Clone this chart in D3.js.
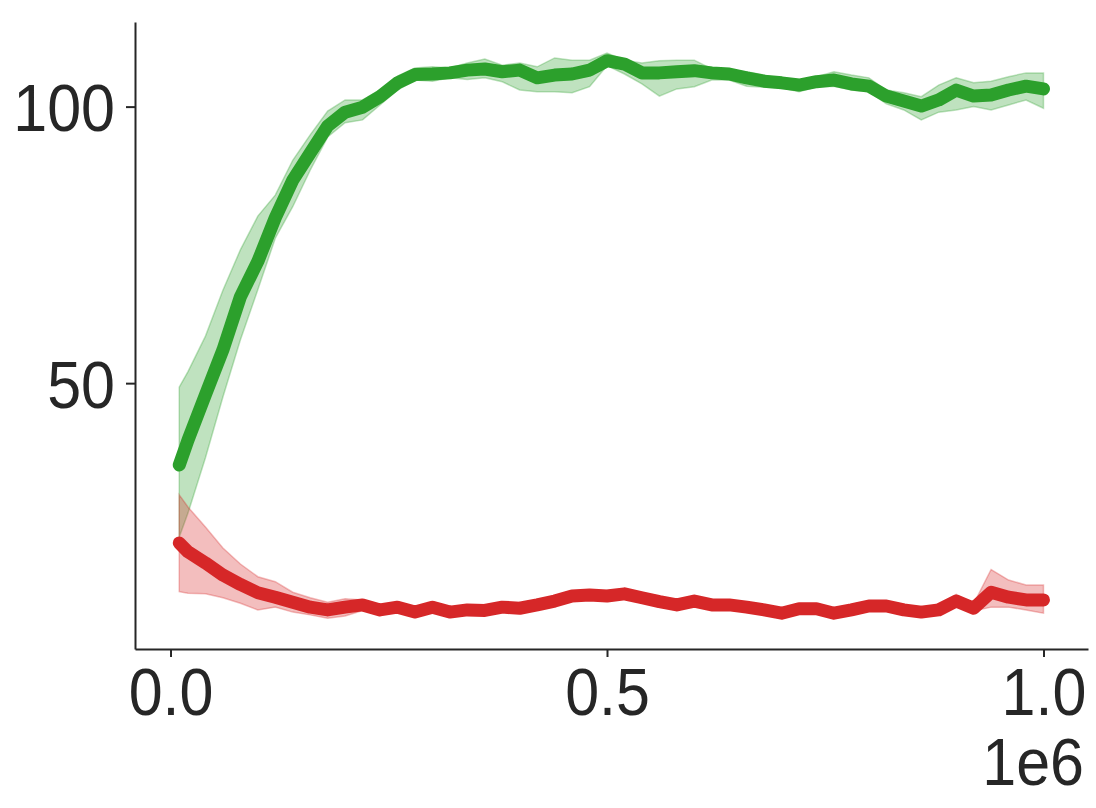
<!DOCTYPE html>
<html>
<head>
<meta charset="utf-8">
<script src="https://cdn.jsdelivr.net/npm/d3@7"></script>
<style>
  html, body { margin: 0; padding: 0; background: #fff; }
  svg { display: block; }
</style>
</head>
<body>
<div id="chart"></div>
<script>
// training steps (x)
var steps = [10000, 20000, 40000, 60000, 80000, 100000, 120000, 140000, 160000, 180000,
  200000, 220000, 240000, 260000, 280000, 300000, 320000, 340000, 360000, 380000,
  400000, 420000, 440000, 460000, 480000, 500000, 520000, 540000, 560000, 580000,
  600000, 620000, 640000, 660000, 680000, 700000, 720000, 740000, 760000, 780000,
  800000, 820000, 840000, 860000, 880000, 900000, 920000, 940000, 960000, 980000, 1000000];

// green series: mean and band
var greenMean = [35.2, 39.7, 47.9, 56.0, 65.6, 72.0, 79.9, 86.7, 91.6, 96.5,
  99.0, 99.9, 101.8, 104.3, 105.8, 105.9, 106.1, 106.6, 106.8, 106.3,
  106.6, 105.2, 105.7, 105.9, 106.6, 108.3, 107.7, 106.1, 106.1, 106.3,
  106.5, 106.1, 105.9, 105.2, 104.6, 104.3, 103.9, 104.5, 104.8, 104.1,
  103.7, 101.9, 101.0, 100.1, 101.2, 103.0, 101.9, 102.1, 103.0, 103.7, 103.2];
var greenLow = [22.2, 26.5, 36.5, 47.5, 57.8, 66.9, 76.2, 81.9, 88.5, 94.5,
  97.1, 97.6, 100.3, 103.0, 104.8, 104.6, 105.2, 104.9, 105.2, 104.5,
  103.0, 102.7, 102.7, 102.5, 103.6, 107.4, 105.9, 104.1, 101.9, 103.2,
  103.6, 104.8, 104.8, 103.7, 103.5, 103.4, 102.7, 103.6, 103.7, 103.0,
  102.7, 100.5, 99.4, 97.6, 99.0, 99.4, 100.0, 99.4, 100.3, 101.2, 99.7];
var greenHigh = [49.3, 52.1, 58.5, 66.8, 74.1, 80.2, 84.0, 90.3, 94.9, 99.2,
  101.2, 101.2, 103.0, 105.5, 107.0, 107.2, 107.0, 107.9, 108.6, 107.5,
  107.9, 107.2, 108.8, 108.4, 108.4, 109.7, 108.4, 107.9, 108.3, 108.4,
  108.4, 106.8, 106.5, 106.3, 105.7, 105.0, 104.8, 105.4, 106.3, 105.7,
  105.2, 103.0, 102.5, 101.8, 103.9, 105.2, 104.3, 104.6, 105.4, 106.1, 106.1];

// red series: mean and band
var redMean = [21.1, 19.5, 17.5, 15.3, 13.6, 12.1, 11.3, 10.4, 9.5, 9.0,
  9.5, 9.9, 9.0, 9.5, 8.6, 9.5, 8.6, 9.0, 8.9, 9.5,
  9.3, 9.9, 10.6, 11.5, 11.7, 11.5, 11.9, 11.2, 10.5, 9.9,
  10.6, 9.9, 9.9, 9.5, 9.0, 8.4, 9.2, 9.2, 8.4, 9.0,
  9.7, 9.7, 9.0, 8.6, 9.0, 10.6, 9.3, 12.2, 11.3, 10.8, 10.8];
var redLow = [12.3, 12.0, 11.9, 11.2, 10.2, 9.0, 9.5, 8.6, 8.1, 7.5,
  7.9, 8.9, 8.4, 8.9, 8.0, 8.9, 8.0, 8.4, 8.3, 8.9,
  8.7, 9.3, 10.0, 10.8, 11.1, 10.9, 11.3, 10.6, 9.9, 9.3,
  10.0, 9.3, 9.3, 8.9, 8.4, 7.8, 8.6, 8.5, 7.7, 8.3,
  9.0, 9.1, 8.4, 8.0, 8.4, 9.7, 8.8, 9.5, 9.5, 9.0, 8.4];
var redHigh = [29.8, 27.6, 24.0, 20.2, 17.3, 15.0, 14.1, 12.2, 11.2, 10.4,
  11.0, 10.8, 9.9, 10.1, 9.2, 10.1, 9.2, 9.6, 9.5, 10.1,
  9.9, 10.5, 11.3, 12.3, 12.4, 12.1, 12.6, 11.8, 11.1, 10.5,
  11.2, 10.5, 10.5, 10.1, 9.6, 9.0, 9.8, 10.0, 9.2, 9.9,
  10.4, 10.3, 9.6, 9.2, 9.6, 11.8, 10.1, 16.3, 14.4, 13.5, 13.5];

var yTicks = [50, 100];
var xTicks = [0, 500000, 1000000];
var xTickLabels = ["0.0", "0.5", "1.0"];
var offsetLabel = "1e6";

var W = 1096, H = 808;
var plotLeft = 135, plotRight = 1088, plotTop = 22, plotBottom = 649;
var axisColor = "#262626";
var fontSize = 67, squeeze = 0.91;

var svg = d3.select("#chart").append("svg")
  .attr("width", W)
  .attr("height", H);

var x = d3.scaleLinear().domain([-40700, 1051000]).range([plotLeft, plotRight]);
var y = d3.scaleLinear().domain([1.93, 115.3]).range([plotBottom, plotTop]);

var series = [
  { color: "#2ca02c", mean: greenMean, low: greenLow, high: greenHigh },
  { color: "#d62728", mean: redMean, low: redLow, high: redHigh }
];

var area = d3.area()
  .x(function(d) { return x(d.s); })
  .y0(function(d) { return y(d.lo); })
  .y1(function(d) { return y(d.hi); });

var line = d3.line()
  .x(function(d) { return x(d.s); })
  .y(function(d) { return y(d.m); });

series.forEach(function(sr) {
  var pts = steps.map(function(s, i) {
    return { s: s, m: sr.mean[i], lo: sr.low[i], hi: sr.high[i] };
  });

  // shaded band
  svg.append("path")
    .datum(pts)
    .attr("d", area)
    .attr("fill", sr.color)
    .attr("fill-opacity", 0.3)
    .attr("stroke", sr.color)
    .attr("stroke-opacity", 0.3)
    .attr("stroke-width", 1.5);

  // mean line
  svg.append("path")
    .datum(pts)
    .attr("d", line)
    .attr("fill", "none")
    .attr("stroke", sr.color)
    .attr("stroke-width", 13)
    .attr("stroke-linecap", "round")
    .attr("stroke-linejoin", "round");
});

// axes
var yAxis = svg.append("g")
  .attr("transform", "translate(" + plotLeft + ",0)")
  .call(d3.axisLeft(y).tickValues(yTicks).tickSize(9).tickSizeOuter(0));

var xAxis = svg.append("g")
  .attr("transform", "translate(0," + plotBottom + ")")
  .call(d3.axisBottom(x).tickValues(xTicks).tickSize(8).tickSizeOuter(0));

[yAxis, xAxis].forEach(function(g) {
  g.select(".domain").attr("stroke", axisColor).attr("stroke-width", 2);
  g.selectAll(".tick line").attr("stroke", axisColor).attr("stroke-width", 2);
  g.selectAll(".tick text").remove();
});

// tick labels, slightly narrowed like the reference
var labelStyle = function(sel) {
  sel.attr("font-family", "'Liberation Sans', Arial, sans-serif")
    .attr("font-size", fontSize)
    .attr("fill", axisColor);
};

yAxis.selectAll(".tick").append("text")
  .attr("transform", "translate(-20," + (0.36 * fontSize) + ") scale(" + squeeze + ",1)")
  .attr("text-anchor", "end")
  .call(labelStyle)
  .text(function(d) { return d; });

xAxis.selectAll(".tick").append("text")
  .attr("transform", "translate(0,66) scale(" + squeeze + ",1)")
  .attr("text-anchor", "middle")
  .call(labelStyle)
  .text(function(d, i) { return xTickLabels[i]; });

svg.append("text")
  .attr("transform", "translate(" + (plotRight - 4) + ",785) scale(" + squeeze + ",1)")
  .attr("text-anchor", "end")
  .call(labelStyle)
  .text(offsetLabel);
</script>
</body>
</html>
